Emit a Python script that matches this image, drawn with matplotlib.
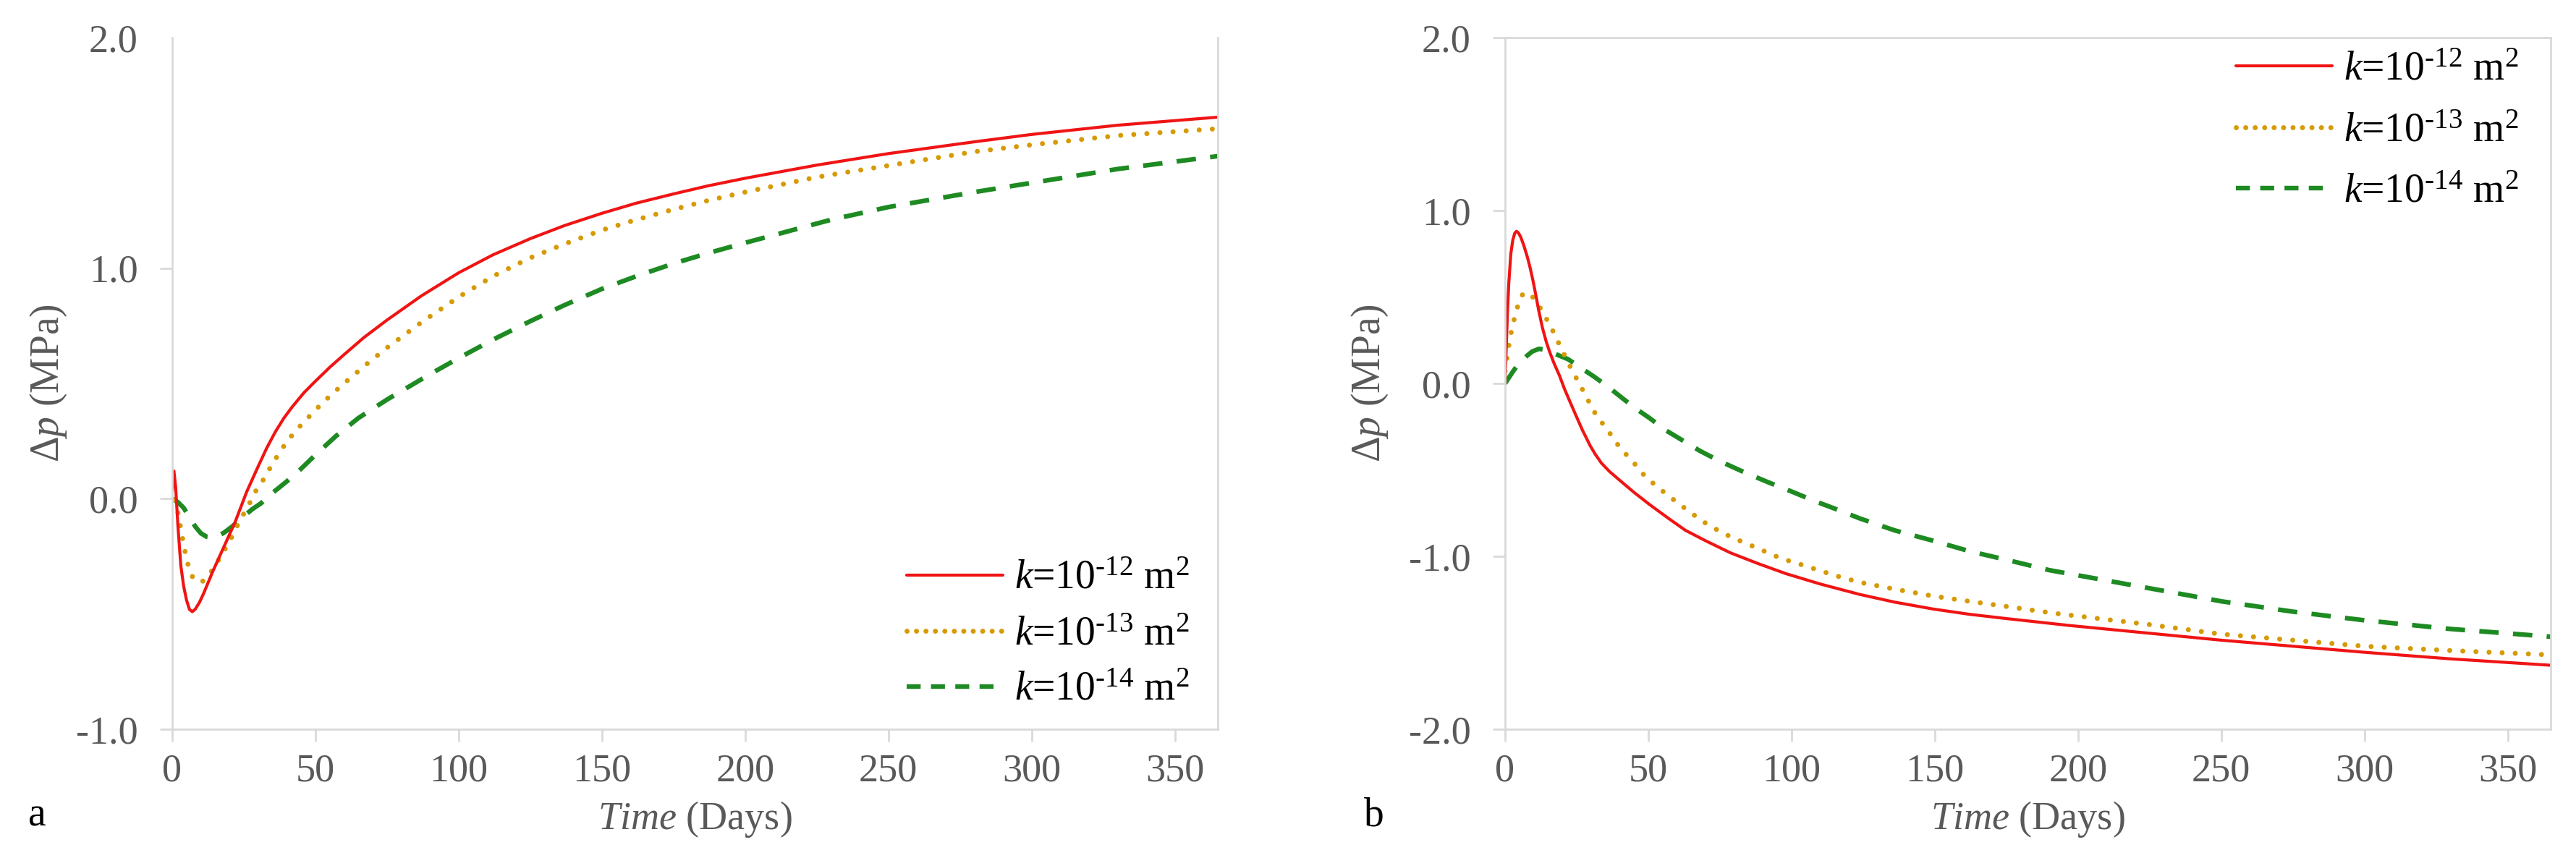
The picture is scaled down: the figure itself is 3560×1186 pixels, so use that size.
import matplotlib
matplotlib.use("Agg")
import matplotlib.pyplot as plt
from matplotlib.lines import Line2D
from matplotlib.mathtext import MathTextParser

plt.rcParams['font.family'] = ['Liberation Serif', 'DejaVu Serif']
plt.rcParams['mathtext.fontset'] = 'custom'
plt.rcParams['mathtext.rm'] = 'Liberation Serif'
plt.rcParams['mathtext.it'] = 'Liberation Serif:italic'
plt.rcParams['mathtext.bf'] = 'Liberation Serif:bold'
plt.rcParams['axes.unicode_minus'] = False

# ---------------- data: panel a ----------------
a_red_t = [0, 0.6, 1.2, 2, 3, 4, 5, 6, 7, 8, 9.5, 11, 14, 18, 22, 26, 30, 33, 36, 39, 42,
           46, 50, 55, 60, 67, 75, 87, 100, 112, 125, 137, 150, 162, 175, 187, 200, 225,
           250, 280, 300, 330, 365]
a_red_v = [0.03, 0.12, 0.05, -0.12, -0.29, -0.38, -0.44, -0.48, -0.49, -0.48, -0.45, -0.41,
           -0.32, -0.21, -0.10, 0.03, 0.14, 0.22, 0.29, 0.35, 0.40,
           0.46, 0.51, 0.57, 0.625, 0.70, 0.775, 0.88, 0.98, 1.058, 1.128, 1.185, 1.238,
           1.282, 1.322, 1.357, 1.39, 1.447, 1.497, 1.548, 1.58, 1.62, 1.655]

a_org_t = [0, 1, 2, 3, 4, 5, 6, 7.5, 9, 10.5, 12, 14, 16, 18.4, 20.4, 22.6, 25.2, 27, 29,
           31.7, 34, 36.2, 38.5, 41.5, 45, 50, 55, 60, 67, 75, 87, 100, 112, 125, 137, 150,
           162, 175, 187, 200, 225, 250, 280, 300, 330, 365]
a_org_v = [0.05, 0.0, -0.06, -0.13, -0.20, -0.26, -0.31, -0.35, -0.36, -0.36, -0.34, -0.31,
           -0.27, -0.22, -0.175, -0.12, -0.06, -0.02, 0.03, 0.08, 0.13, 0.175, 0.22, 0.27,
           0.32, 0.385, 0.445, 0.50, 0.575, 0.655, 0.765, 0.875, 0.965, 1.045, 1.105, 1.165,
           1.21, 1.255, 1.293, 1.33, 1.395, 1.445, 1.505, 1.535, 1.575, 1.605]

a_grn_t = [0, 2, 4, 6, 8, 10, 12, 14, 16, 18, 21, 24.6, 28, 31, 35, 40, 45, 50, 57, 65, 75,
           90, 100, 112, 125, 137, 150, 162, 175, 187, 200, 230, 250, 280, 300, 330, 365]
a_grn_v = [0.0, -0.015, -0.04, -0.08, -0.12, -0.15, -0.165, -0.168, -0.162, -0.148, -0.12,
           -0.08, -0.045, -0.02, 0.025, 0.075, 0.13, 0.19, 0.27, 0.35, 0.43, 0.54, 0.61,
           0.69, 0.77, 0.84, 0.91, 0.965, 1.02, 1.065, 1.11, 1.21, 1.265, 1.33, 1.37, 1.43,
           1.486]

# ---------------- data: panel b ----------------
b_red_t = [0, 0.4, 0.8, 1.3, 2.0, 2.7, 3.4, 4.0, 4.7, 5.5, 6.5, 7.8, 8.8, 9.8, 10.8, 11.7,
           13, 14.3, 15.5, 17, 19, 20.7, 22.5, 24.6, 27, 29.7, 31.5, 33.6, 36.5, 40, 45,
           50.4, 57, 63, 70, 78.7, 88, 98, 110, 123.7, 136, 149.5, 162, 175, 197, 225, 250,
           300, 330, 365]
b_red_v = [0.0, 0.2, 0.40, 0.58, 0.75, 0.83, 0.87, 0.88, 0.87, 0.845, 0.80, 0.73, 0.665,
           0.59, 0.505, 0.425, 0.325, 0.245, 0.185, 0.12, 0.045, -0.03, -0.10, -0.18, -0.27,
           -0.36, -0.41, -0.46, -0.51, -0.56, -0.63, -0.70, -0.78, -0.85, -0.91, -0.98,
           -1.04, -1.10, -1.16, -1.22, -1.265, -1.305, -1.335, -1.36, -1.40, -1.445, -1.485,
           -1.555, -1.593, -1.63]

b_org_t = [0, 0.7, 1.4, 2.3, 3.3, 4.8, 6.3, 8, 9, 10.2, 12.5, 14.9, 16.8, 18.8, 22, 25.2,
           27.5, 29.7, 32, 34.9, 37.5, 40, 45, 49, 54, 59.4, 65, 71, 79, 87.7, 96, 105.7,
           115, 123.7, 136, 149.5, 162, 175, 192, 225, 250, 300, 330, 365]
b_org_v = [0.07, 0.15, 0.23, 0.31, 0.38, 0.47, 0.52, 0.525, 0.51, 0.49, 0.43, 0.36, 0.30,
           0.23, 0.12, 0.02, -0.05, -0.12, -0.19, -0.25, -0.31, -0.37, -0.46, -0.54, -0.61,
           -0.68, -0.75, -0.82, -0.89, -0.95, -1.01, -1.06, -1.11, -1.15, -1.19, -1.23,
           -1.26, -1.29, -1.33, -1.395, -1.45, -1.52, -1.545, -1.57]

b_grn_t = [0, 1.2, 2.8, 5, 7.3, 9.5, 11.8, 14, 17.6, 22, 26, 31, 36, 41.3, 46, 50.4, 56, 62,
           68, 75, 83, 91.6, 100, 108, 116, 123.7, 136, 149.5, 162, 175, 190, 210, 230, 250,
           275, 300, 330, 365]
b_grn_v = [0.0, 0.03, 0.07, 0.12, 0.155, 0.185, 0.20, 0.195, 0.17, 0.14, 0.095, 0.04, -0.02,
           -0.09, -0.15, -0.20, -0.27, -0.33, -0.39, -0.45, -0.51, -0.57, -0.625, -0.68,
           -0.73, -0.78, -0.85, -0.91, -0.97, -1.02, -1.08, -1.14, -1.20, -1.26, -1.32,
           -1.37, -1.42, -1.465]

x_ticks = [0, 50, 100, 150, 200, 250, 300, 350]
a_y_ticks = [-1.0, 0.0, 1.0, 2.0]
a_y_labels = ['-1.0', '0.0', '1.0', '2.0']
b_y_ticks = [-2.0, -1.0, 0.0, 1.0, 2.0]
b_y_labels = ['-2.0', '-1.0', '0.0', '1.0', '2.0']


def make_label(exp):
    cand = r'$\mathit{k}$=10$^{\text{-}%s}$ m$^{2}$' % exp
    try:
        MathTextParser('agg').parse(cand, dpi=100)
        return cand
    except Exception:
        return r'$\mathit{k}$=10$^{-%s}$ m$^{2}$' % exp


labels = [make_label('12'), make_label('13'), make_label('14')]

RED = '#F01414'
ORG = '#D69A06'
GRN = '#1E8A22'
SPINE = '#D9D9D9'
TICKTXT = '#595959'

W, H = 3560, 1186
fig = plt.figure(figsize=(W / 100, H / 100), dpi=100)

axa = fig.add_axes([238 / W, 1 - 1008 / H, 1445 / W, 956 / H])
axb = fig.add_axes([2080 / W, 1 - 1008 / H, 1445 / W, 956 / H])

red_kw = dict(color=RED, lw=3.0, solid_capstyle='round', solid_joinstyle='round')
org_kw = dict(color=ORG, lw=5.0, dashes=(0.01, 2.6), dash_capstyle='round')
grn_kw = dict(color=GRN, lw=4.6, dashes=(4.2, 3.1), dash_capstyle='butt')

for ax, data in ((axa, (a_red_t, a_red_v, a_org_t, a_org_v, a_grn_t, a_grn_v)),
                 (axb, (b_red_t, b_red_v, b_org_t, b_org_v, b_grn_t, b_grn_v))):
    rt, rv, ot, ov, gt, gv = data
    ax.plot(gt, gv, **grn_kw)
    ax.plot(ot, ov, **org_kw)
    ax.plot(rt, rv, **red_kw)
    ax.set_xlim(0, 365)
    ax.set_xticks(x_ticks)
    ax.set_xticklabels([str(v) for v in x_ticks])
    for s in ax.spines.values():
        s.set_color(SPINE)
        s.set_linewidth(2.0)
    ax.tick_params(axis='both', colors=SPINE, width=2.0, length=12,
                   labelcolor=TICKTXT, labelsize=39)
    ax.tick_params(axis='x', pad=12)
    ax.tick_params(axis='y', pad=22)

axa.set_ylim(-1.0, 2.0)
axa.set_yticks(a_y_ticks)
axa.set_yticklabels(a_y_labels)
axa.spines['top'].set_visible(False)
axa.yaxis.get_major_ticks()[-1].tick1line.set_visible(False)

axb.set_ylim(-2.0, 2.0)
axb.set_yticks(b_y_ticks)
axb.set_yticklabels(b_y_labels)


def handles(scale):
    return [Line2D([], [], **red_kw),
            Line2D([], [], color=ORG, lw=5.0, dashes=(0.01, 2.6 * scale), dash_capstyle='round'),
            Line2D([], [], color=GRN, lw=4.6, dashes=(4.2 * scale, 3.1 * scale), dash_capstyle='butt')]


leg_kw = dict(frameon=False, fontsize=40, handlelength=2.4, handletextpad=0.28,
              borderpad=0, borderaxespad=0, loc='center')
axa.legend(handles(0.72), labels, bbox_to_anchor=((1448 - 238) / 1445, (1008 - 877) / 956),
           labelspacing=0.45, **leg_kw)
axb.legend(handles(0.72), labels, bbox_to_anchor=((3285 - 2080) / 1445, (1008 - 181) / 956),
           labelspacing=0.58, **leg_kw)

fig.text(67 / W, 1 - 530 / H, r'$\Delta\mathit{p}$ (MPa)', rotation=90, ha='center', va='center',
         fontsize=40, color=TICKTXT)
fig.text(1893 / W, 1 - 530 / H, r'$\Delta\mathit{p}$ (MPa)', rotation=90, ha='center', va='center',
         fontsize=40, color=TICKTXT)
fig.text(960 / W, 1 - 1132 / H, r'$\mathit{Time}$ (Days)', ha='center', va='center',
         fontsize=39, color=TICKTXT)
fig.text(2802 / W, 1 - 1132 / H, r'$\mathit{Time}$ (Days)', ha='center', va='center',
         fontsize=39, color=TICKTXT)
fig.text(51 / W, 1 - 1142 / H, 'a', ha='center', va='baseline', fontsize=40, color='black')
fig.text(1899 / W, 1 - 1142 / H, 'b', ha='center', va='baseline', fontsize=40, color='black')

fig.savefig('out.png', dpi=100, facecolor='white')
